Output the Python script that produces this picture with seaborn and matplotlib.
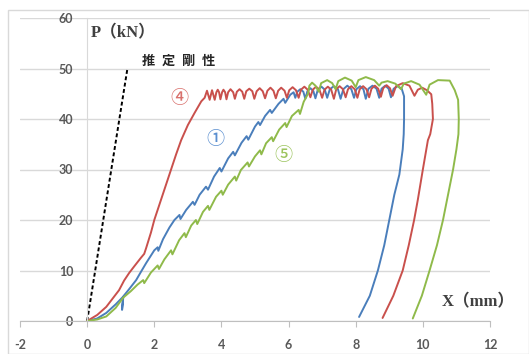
import matplotlib
matplotlib.use("Agg")
import matplotlib.pyplot as plt
import seaborn as sns
from matplotlib.patches import Rectangle

# specimen ④ (red)
red_x = [0, 0.3, 0.57, 0.8, 0.95, 1.1, 1.25, 1.4, 1.6, 1.7, 1.76, 1.9, 2.0, 2.15, 2.3, 2.5, 2.65, 2.8, 3.0, 3.2, 3.4,
         3.5, 3.57, 3.65, 3.72, 3.8, 3.85, 3.89, 3.93, 3.97, 4.02, 4.06, 4.11, 4.15, 4.2, 4.27, 4.35, 4.4,
         4.46, 4.54, 4.62, 4.68, 4.74, 4.83, 4.92, 4.98, 5.05, 5.14, 5.23, 5.3, 5.37, 5.46, 5.55, 5.62,
         5.69, 5.78, 5.88, 5.95, 6.02, 6.12, 6.22, 6.3, 6.37, 6.47, 6.57, 6.65, 6.72, 6.82, 6.92, 7.0,
         7.07, 7.17, 7.27, 7.35, 7.42, 7.52, 7.62, 7.7, 7.77, 7.87, 7.97, 8.05, 8.12, 8.22, 8.32, 8.4,
         8.47, 8.57, 8.67, 8.75, 8.82, 8.92, 9.02, 9.1, 9.2, 9.4, 9.6, 9.75, 9.85, 9.98, 10.12, 10.25,
         10.28, 10.3, 10.22, 10.15, 10.0, 9.85, 9.74, 9.58, 9.4, 9.12, 8.8]
red_y = [0, 1.2, 2.8, 4.8, 6.1, 8.0, 9.5, 10.8, 12.5, 13.3, 14.5, 17.5, 20, 23, 26, 30, 33, 35.8, 38.8, 41.2, 43.5,
         44.2, 45.6, 43.8, 45.7, 43.8, 45.3, 45.8, 45.3, 43.9, 45.3, 45.8, 45.3, 43.9, 45.3, 45.9, 45.3, 44.0,
         45.4, 45.9, 45.4, 44.0, 45.5, 46.0, 45.5, 44.0, 45.5, 46.1, 45.5, 44.1, 45.6, 46.2, 45.6, 44.1,
         45.6, 46.2, 45.6, 44.2, 45.7, 46.3, 45.7, 44.2, 45.8, 46.4, 45.8, 44.3, 45.8, 46.4, 45.8, 44.2,
         45.8, 46.4, 45.8, 44.0, 45.9, 46.5, 45.9, 44.3, 45.9, 46.5, 45.9, 44.2, 45.9, 46.5, 45.9, 44.3,
         46.0, 46.6, 46.0, 44.4, 46.1, 46.7, 46.1, 44.6, 46.5, 47.1, 46.6, 44.6, 45.8, 46.2, 45.7, 44.9,
         43, 40, 37, 35.8, 30, 24, 20, 15, 10, 5, 0.6]

# specimen ① (blue)
blue_x = [0, 0.3, 0.57, 0.85, 1.07, 1.04, 1.08, 1.25, 1.46, 1.6, 1.76, 2.0, 2.1, 2.12, 2.26, 2.45, 2.6, 2.75, 2.78,
          2.95, 3.15, 3.2, 3.35, 3.54, 3.6, 3.78, 3.95, 4.0, 4.2, 4.35, 4.4, 4.6, 4.75, 4.8, 5.0, 5.1, 5.15,
          5.3, 5.45, 5.5, 5.7, 5.85, 5.9, 6.05, 6.15, 6.2,
          6.26, 6.35, 6.44, 6.5, 6.56, 6.65, 6.74, 6.8, 6.87, 6.98, 7.08, 7.15, 7.23, 7.35, 7.47, 7.55,
          7.63, 7.75, 7.87, 7.95, 8.02, 8.13, 8.23, 8.3, 8.38, 8.5, 8.62, 8.7, 8.77, 8.88, 8.98, 9.05,
          9.13, 9.25, 9.37, 9.44,
          9.44, 9.43, 9.4, 9.3, 9.15, 9.0, 8.85, 8.66, 8.42, 8.1]
blue_y = [0, 0.5, 1.6, 3.3, 4.8, 2.2, 4.9, 6.3, 8.1, 9.7, 11.5, 14.0, 14.6, 13.9, 16.2, 18.5, 20.0, 21.0, 20.2,
          22.0, 23.6, 23.0, 25.0, 26.6, 26.0, 28.6, 30.3, 29.6, 32.2, 33.5, 32.8, 35.3, 36.6, 35.9, 38.5, 39.4, 38.8,
          40.6, 41.8, 41.2, 43.0, 44.0, 43.2, 44.8, 45.3, 44.2,
          45.4, 45.9, 45.4, 44.0, 45.5, 46.1, 45.5, 44.1, 45.8, 46.4, 45.8, 44.2, 45.9, 46.5, 45.9, 44.0,
          45.9, 46.6, 45.9, 44.2, 45.9, 46.5, 45.9, 44.0, 46.0, 46.6, 46.0, 44.2, 46.0, 46.6, 46.0, 44.3,
          46.0, 46.5, 46.0, 44.5,
          40, 37, 34, 29, 25, 20, 15, 10, 5, 0.8]

# specimen ⑤ (green)
green_x = [0, 0.3, 0.57, 0.85, 1.07, 1.3, 1.5, 1.67, 1.7, 1.9, 2.1, 2.14, 2.3, 2.5, 2.54, 2.74, 2.9, 2.94, 3.1,
           3.24, 3.28, 3.45, 3.6, 3.64, 3.84, 4.0, 4.04, 4.2, 4.4, 4.44, 4.58, 4.78, 4.82, 5.0, 5.15, 5.19,
           5.33, 5.5, 5.54, 5.72, 5.9, 5.94, 6.1, 6.3, 6.34, 6.45, 6.58,
           6.62, 6.7, 6.8, 6.9, 6.97, 7.15, 7.3, 7.4, 7.48, 7.68, 7.88, 8.0, 8.08, 8.3, 8.55, 8.7,
           8.77, 8.95, 9.18, 9.35, 9.43, 9.65, 9.9, 10.1, 10.2, 10.45, 10.8, 10.95, 11.05,
           11.07, 11.06, 11.0, 10.9, 10.75, 10.6, 10.42, 10.2, 9.97, 9.7]
green_y = [0, 0.3, 0.9, 2.6, 4.6, 5.9, 7.2, 8.1, 7.5, 9.6, 11.0, 10.3, 12.2, 14.0, 13.2, 16.0, 17.4, 16.6, 18.9,
           20.0, 19.2, 21.6, 22.8, 22.0, 24.6, 25.8, 25.0, 27.0, 28.6, 27.8, 29.9, 31.4, 30.6, 32.6, 33.8, 33.0,
           35.2, 36.4, 35.6, 37.9, 39.2, 38.4, 40.6, 41.8, 41.0, 43.4, 45.0,
           46.6, 47.2, 46.6, 45.4, 47.1, 47.7, 47.1, 45.9, 47.5, 48.2, 47.6, 46.3, 47.7, 48.3, 47.7, 46.6,
           47.2, 47.5, 47.0, 45.9, 47.0, 47.5, 46.8, 44.8, 46.8, 47.7, 47.6, 45.7, 43.8,
           40, 37, 34, 30, 25, 20, 15, 10, 5, 0.5]

# estimated stiffness line
stiff_x = [0, 1.2]
stiff_y = [0, 50]

x_ticks = [-2, 0, 2, 4, 6, 8, 10, 12]
y_ticks = [0, 10, 20, 30, 40, 50, 60]

sns.set_style("white")
plt.rcParams['font.family'] = ['Lato', 'DejaVu Sans']
plt.rcParams['axes.unicode_minus'] = False

fig = plt.figure(figsize=(5.29, 3.54), dpi=100)
ax = fig.add_axes([20 / 529, 1 - 321 / 354, 470 / 529, 303 / 354])
fig.patches.append(Rectangle((8 / 529, 0.0), 1 - 8 / 529, 1 - 10 / 354, transform=fig.transFigure,
                             fill=False, edgecolor="#d9d9d9", linewidth=1.0))

red, blue, green = "#c9504c", "#4a7ebb", "#8fba4a"
sns.lineplot(x=stiff_x, y=stiff_y, sort=False, estimator=None, color="black", linewidth=1.4,
             linestyle=(0, (2, 1.3)), ax=ax)
sns.lineplot(x=blue_x, y=blue_y, sort=False, estimator=None, color=blue, linewidth=1.4, ax=ax)
sns.lineplot(x=red_x, y=red_y, sort=False, estimator=None, color=red, linewidth=1.4, ax=ax)
sns.lineplot(x=green_x, y=green_y, sort=False, estimator=None, color=green, linewidth=1.4, ax=ax)

ax.set_xlim(-2, 12)
ax.set_ylim(0, 60)
ax.set_xticks(x_ticks)
ax.set_yticks(y_ticks)
ax.set_xlabel("")
ax.set_ylabel("")
ax.yaxis.grid(True, color="#d9d9d9", linewidth=1.0)
ax.xaxis.grid(False)
ax.set_axisbelow(True)

for s in ["top", "right"]:
    ax.spines[s].set_visible(False)
ax.spines["left"].set_position(("data", 0))
ax.spines["left"].set_color("#d9d9d9")
ax.spines["bottom"].set_color("#bfbfbf")
ax.tick_params(axis="y", length=0, pad=10, labelsize=9, labelcolor="#595959")
ax.tick_params(axis="x", length=4, width=0.8, color="#bfbfbf", direction="out", pad=9,
               labelsize=9, labelcolor="#595959", bottom=True)
for lab in ax.get_xticklabels() + ax.get_yticklabels():
    lab.set_fontweight("bold")

serif = ["Liberation Serif", "Noto Sans CJK JP"]
ax.text(0.12, 57.0, "P（kN）", family=serif, fontsize=12, fontweight="bold", color="#404040",
        ha="left", va="center", bbox=dict(facecolor="white", edgecolor="none", pad=1))
ax.text(11.65, 3.6, "X（mm）", family=serif, fontsize=12, fontweight="bold", color="#404040",
        ha="center", va="center")

for i, ch in enumerate("推定剛性"):
    ax.annotate(ch, (1.82, 51.5), xytext=(i * 14.5, 0), textcoords="offset points",
                family=["Noto Sans CJK JP"], fontsize=9.5, fontweight="bold", color="#262626",
                ha="center", va="center")

cjk = ["Noto Sans CJK JP", "DejaVu Sans"]
ax.text(2.74, 44.2, "④", family=cjk, fontsize=13, fontweight="medium", color="#d9716d", ha="center", va="center")
ax.text(3.81, 36.0, "①", family=cjk, fontsize=13, fontweight="medium", color="#5b8fd0", ha="center", va="center")
ax.text(5.84, 32.9, "⑤", family=cjk, fontsize=13, fontweight="medium", color="#9cc45e", ha="center", va="center")

fig.savefig("out.png", dpi=100)
